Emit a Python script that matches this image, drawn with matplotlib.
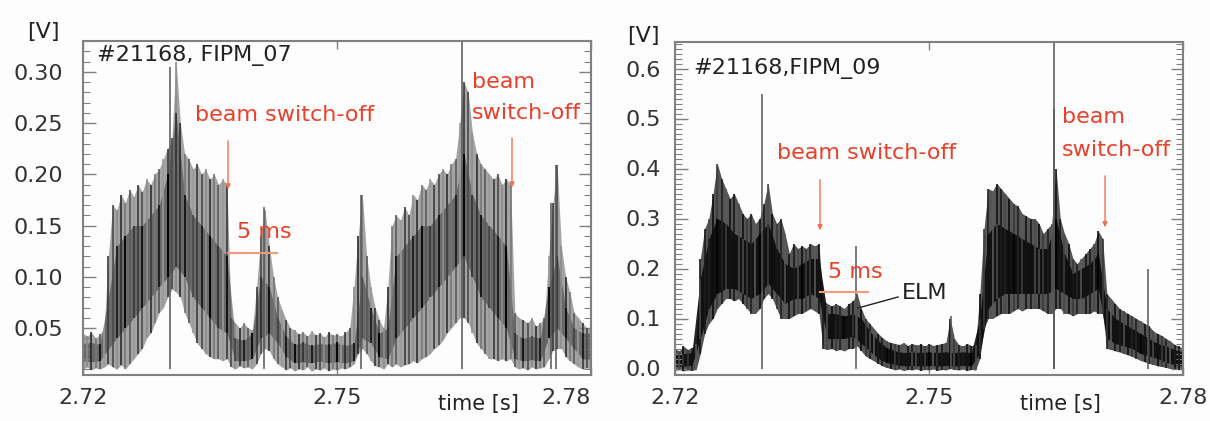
import numpy as np
import matplotlib
matplotlib.use("Agg")
from matplotlib import pyplot as plt
from matplotlib.ticker import MultipleLocator

plt.rcParams['font.family'] = ['DejaVu Sans']

# sample times of the envelopes (0.5 ms) and of the dense core (1 ms)
T = np.linspace(2.72, 2.78, 121)
TC = np.linspace(2.72, 2.78, 61)

# FIPM_07 - outer envelope of the signal [V]
L_HI = [0.045, 0.042, 0.046, 0.040, 0.044, 0.050, 0.120, 0.170, 0.165, 0.180,
        0.172, 0.185, 0.178, 0.190, 0.183, 0.195, 0.190, 0.200, 0.205, 0.215,
        0.225, 0.235, 0.310, 0.250, 0.220, 0.215, 0.205, 0.210, 0.200, 0.205,
        0.195, 0.200, 0.190, 0.195, 0.190, 0.060, 0.055, 0.050, 0.055, 0.050,
        0.048, 0.090, 0.140, 0.165, 0.130, 0.100, 0.080, 0.068, 0.058, 0.050,
        0.048, 0.044, 0.046, 0.042, 0.047, 0.043, 0.045, 0.041, 0.046, 0.043,
        0.044, 0.042, 0.046, 0.050, 0.090, 0.140, 0.180, 0.120, 0.090, 0.070,
        0.058, 0.050, 0.090, 0.150, 0.160, 0.155, 0.168, 0.160, 0.180, 0.175,
        0.190, 0.185, 0.195, 0.190, 0.200, 0.205, 0.200, 0.210, 0.215, 0.250,
        0.290, 0.280, 0.240, 0.220, 0.210, 0.205, 0.200, 0.195, 0.200, 0.190,
        0.195, 0.190, 0.065, 0.060, 0.058, 0.055, 0.060, 0.052, 0.055, 0.060,
        0.120, 0.172, 0.209, 0.130, 0.100, 0.085, 0.065, 0.060, 0.055, 0.050,
        0.050]
L_LO = [0.010, 0.012, 0.009, 0.011, 0.010, 0.012, 0.015, 0.012, 0.010, 0.014,
        0.010, 0.015, 0.020, 0.025, 0.030, 0.040, 0.045, 0.055, 0.065, 0.070,
        0.080, 0.088, 0.085, 0.080, 0.065, 0.055, 0.045, 0.035, 0.030, 0.025,
        0.022, 0.020, 0.020, 0.018, 0.020, 0.012, 0.010, 0.013, 0.011, 0.012,
        0.010, 0.015, 0.025, 0.030, 0.028, 0.020, 0.015, 0.012, 0.009, 0.011,
        0.008, 0.010, 0.009, 0.012, 0.008, 0.010, 0.009, 0.011, 0.008, 0.010,
        0.009, 0.011, 0.010, 0.012, 0.015, 0.025, 0.030, 0.025, 0.018, 0.013,
        0.012, 0.010, 0.015, 0.012, 0.015, 0.012, 0.014, 0.015, 0.018, 0.016,
        0.020, 0.022, 0.025, 0.030, 0.033, 0.038, 0.045, 0.050, 0.055, 0.060,
        0.060, 0.055, 0.045, 0.035, 0.030, 0.025, 0.020, 0.020, 0.018, 0.020,
        0.018, 0.020, 0.012, 0.010, 0.011, 0.009, 0.012, 0.010, 0.011, 0.012,
        0.020, 0.028, 0.030, 0.030, 0.022, 0.018, 0.015, 0.012, 0.010, 0.011,
        0.010]
# FIPM_07 - dense (dark) core
LC_LO = [0.018, 0.017, 0.018, 0.030, 0.040, 0.050, 0.060, 0.070, 0.080, 0.090,
         0.100, 0.110, 0.100, 0.080, 0.070, 0.060, 0.050, 0.045, 0.018, 0.018,
         0.020, 0.040, 0.045, 0.035, 0.022, 0.016, 0.017, 0.016, 0.018, 0.016,
         0.017, 0.016, 0.018, 0.040, 0.035, 0.022, 0.020, 0.040, 0.050, 0.060,
         0.070, 0.080, 0.090, 0.100, 0.110, 0.120, 0.100, 0.080, 0.070, 0.060,
         0.050, 0.020, 0.018, 0.019, 0.018, 0.040, 0.050, 0.040, 0.030, 0.020,
         0.020]
LC_HI = [0.035, 0.036, 0.034, 0.080, 0.130, 0.140, 0.150, 0.150, 0.160, 0.170,
         0.200, 0.260, 0.180, 0.160, 0.150, 0.140, 0.130, 0.120, 0.040, 0.038,
         0.045, 0.100, 0.090, 0.060, 0.042, 0.034, 0.036, 0.033, 0.035, 0.034,
         0.036, 0.033, 0.035, 0.100, 0.070, 0.045, 0.050, 0.120, 0.130, 0.140,
         0.150, 0.150, 0.160, 0.170, 0.180, 0.220, 0.180, 0.160, 0.150, 0.140,
         0.130, 0.045, 0.040, 0.042, 0.040, 0.090, 0.120, 0.070, 0.050, 0.045,
         0.045]
# FIPM_07 - isolated spikes
L_SPIKE_T = [2.73028, 2.74138, 2.75283, 2.76476, 2.77527, 2.77586]
L_SPIKE_V = [0.305, 0.168, 0.180, 0.340, 0.172, 0.209]

# FIPM_09 - outer envelope [V]
R_HI = [0.040, 0.035, 0.045, 0.038, 0.042, 0.050, 0.220, 0.280, 0.300, 0.350,
        0.410, 0.380, 0.360, 0.340, 0.350, 0.330, 0.310, 0.300, 0.310, 0.290,
        0.300, 0.330, 0.370, 0.310, 0.290, 0.300, 0.270, 0.230, 0.250, 0.240,
        0.245, 0.240, 0.250, 0.245, 0.250, 0.135, 0.130, 0.125, 0.130, 0.125,
        0.120, 0.130, 0.135, 0.150, 0.120, 0.100, 0.090, 0.080, 0.070, 0.062,
        0.055, 0.052, 0.050, 0.048, 0.052, 0.046, 0.050, 0.047, 0.049, 0.045,
        0.050, 0.046, 0.048, 0.050, 0.052, 0.100, 0.060, 0.048, 0.045, 0.050,
        0.046, 0.048, 0.150, 0.280, 0.360, 0.355, 0.370, 0.360, 0.350, 0.340,
        0.330, 0.325, 0.310, 0.305, 0.300, 0.300, 0.290, 0.270, 0.280, 0.290,
        0.400, 0.300, 0.270, 0.250, 0.220, 0.210, 0.220, 0.230, 0.240, 0.250,
        0.275, 0.260, 0.150, 0.140, 0.130, 0.120, 0.115, 0.110, 0.105, 0.100,
        0.095, 0.090, 0.085, 0.075, 0.070, 0.066, 0.060, 0.055, 0.048, 0.045,
        0.040]
R_LO = [-0.004, -0.002, -0.005, -0.003, -0.004, -0.002, 0.030, 0.070, 0.090, 0.100,
        0.120, 0.130, 0.140, 0.140, 0.135, 0.140, 0.130, 0.120, 0.110, 0.110,
        0.120, 0.140, 0.150, 0.140, 0.120, 0.100, 0.100, 0.100, 0.105, 0.110,
        0.110, 0.115, 0.120, 0.115, 0.110, 0.040, 0.038, 0.040, 0.036, 0.038,
        0.035, 0.040, 0.040, 0.045, 0.035, 0.025, 0.020, 0.015, 0.010, 0.005,
        0.002, 0.000, -0.003, -0.001, -0.004, -0.002, -0.003, -0.001, -0.004, -0.002,
        -0.003, -0.001, -0.004, -0.002, -0.003, 0.000, -0.002, -0.003, -0.001, -0.004,
        -0.002, -0.003, 0.020, 0.080, 0.100, 0.100, 0.105, 0.110, 0.110, 0.110,
        0.115, 0.120, 0.115, 0.120, 0.120, 0.120, 0.120, 0.115, 0.110, 0.110,
        0.120, 0.120, 0.110, 0.110, 0.105, 0.110, 0.110, 0.110, 0.110, 0.115,
        0.110, 0.110, 0.040, 0.038, 0.035, 0.033, 0.030, 0.027, 0.024, 0.020,
        0.016, 0.013, 0.010, 0.008, 0.005, 0.004, 0.002, 0.000, -0.001, -0.002,
        -0.003]
RC_LO = [0.005, 0.005, 0.006, 0.060, 0.120, 0.150, 0.160, 0.160, 0.150, 0.140,
         0.150, 0.170, 0.150, 0.130, 0.140, 0.140, 0.150, 0.140, 0.060, 0.060,
         0.060, 0.065, 0.050, 0.035, 0.020, 0.012, 0.008, 0.005, 0.006, 0.005,
         0.006, 0.005, 0.006, 0.005, 0.006, 0.005, 0.030, 0.120, 0.140, 0.150,
         0.150, 0.150, 0.150, 0.150, 0.150, 0.160, 0.150, 0.140, 0.140, 0.150,
         0.160, 0.060, 0.050, 0.045, 0.040, 0.030, 0.025, 0.020, 0.012, 0.008,
         0.005]
RC_HI = [0.030, 0.030, 0.032, 0.180, 0.260, 0.300, 0.290, 0.270, 0.260, 0.250,
         0.270, 0.290, 0.240, 0.210, 0.200, 0.210, 0.220, 0.220, 0.110, 0.110,
         0.105, 0.110, 0.100, 0.075, 0.055, 0.042, 0.035, 0.032, 0.033, 0.032,
         0.033, 0.032, 0.033, 0.032, 0.033, 0.032, 0.100, 0.270, 0.290, 0.280,
         0.270, 0.260, 0.250, 0.240, 0.240, 0.300, 0.230, 0.190, 0.200, 0.210,
         0.230, 0.120, 0.100, 0.090, 0.080, 0.070, 0.060, 0.050, 0.045, 0.038,
         0.032]
R_SPIKE_T = [2.73028, 2.74138, 2.75260, 2.76476, 2.76476, 2.77586]
R_SPIKE_V = [0.550, 0.245, 0.105, 0.660, 0.520, 0.200]

XTICKS = [2.72, 2.75, 2.78]
XTICKLABELS = ['2.72', '2.75', '2.78']
L_YTICKS = [0.05, 0.10, 0.15, 0.20, 0.25, 0.30]
R_YTICKS = [0.0, 0.1, 0.2, 0.3, 0.4, 0.5, 0.6]

RED = '#e8402a'
ARROW = '#ef7050'
FS = 16

# stroke shades, cycled along the trace so the streaks don't look like a comb
L_STREAKS = ['#4a4a4a', '#8c8c8c', '#2e2e2e', '#777777', '#5a5a5a', '#9a9a9a', '#3a3a3a']
R_STREAKS = ['#1a1a1a', '#4a4a4a', '#0e0e0e', '#3a3a3a', '#222222', '#5a5a5a', '#141414']
CORE_STREAKS = ['#000000', '#333333', '#111111', '#454545', '#1a1a1a']


def cycle(cols, n):
    return [cols[i % len(cols)] for i in range(n)]


def draw_signal(ax, lo, hi, clo, chi, sp_t, sp_v, ybase, outer, streaks, core, calpha):
    ax.fill_between(T, lo, hi, color=outer, lw=0)
    ax.vlines(T, lo, hi, colors=cycle(streaks, len(T)), lw=1.2)
    ax.fill_between(TC, clo, chi, color=core, lw=0, alpha=calpha)
    ax.vlines(TC, clo, chi, colors=cycle(CORE_STREAKS, len(TC)), lw=1.3)
    ax.vlines(sp_t, ybase, sp_v, color='#555555', lw=1.1)


def style_axes(ax, yticks, ylabels, ylim, ypad):
    ax.set_xlim(2.72, 2.78)
    ax.set_ylim(*ylim)
    ax.set_facecolor('#fdfdfd')
    ax.set_xticks(XTICKS)
    ax.set_xticklabels(XTICKLABELS)
    ax.set_yticks(yticks)
    ax.set_yticklabels(ylabels)
    ax.yaxis.set_minor_locator(MultipleLocator(0.01))
    ax.tick_params(axis='both', which='both', direction='in', colors='#808080',
                   labelcolor='#333333', labelsize=FS, top=True, right=True)
    ax.tick_params(axis='y', which='major', length=9, width=1.0, pad=ypad)
    ax.tick_params(axis='y', which='minor', length=5, width=0.8)
    ax.tick_params(axis='x', which='major', length=6, width=1.0, pad=9)
    for s in ax.spines.values():
        s.set_color('#808080')
        s.set_linewidth(1.5)


fig = plt.figure(figsize=(12.1, 4.21), dpi=100, facecolor='#fdfdfd')
axl = fig.add_axes([83 / 1210, 1 - 375 / 421, 508 / 1210, 334 / 421])
axr = fig.add_axes([675 / 1210, 1 - 375 / 421, 508 / 1210, 333 / 421])

# ---- left panel: FIPM_07
draw_signal(axl, L_LO, L_HI, LC_LO, LC_HI, L_SPIKE_T, L_SPIKE_V, 0.01,
            '#a4a4a4', L_STREAKS, '#303030', 0.5)
style_axes(axl, L_YTICKS, ['%.2f' % v for v in L_YTICKS], (0.0042, 0.33), 14)
axl.get_xticklabels()[-1].set_horizontalalignment('right')
axl.text(2.72165, 0.316, '#21168, FIPM_07', fontsize=FS, color='#222222', va='center')
axl.text(2.73323, 0.2576, 'beam switch-off', fontsize=FS, color=RED, va='center')
axl.annotate('', xy=(2.73713, 0.1826), xytext=(2.73713, 0.2352),
             arrowprops=dict(arrowstyle='-|>', color=ARROW, lw=1.0, mutation_scale=7))
axl.text(2.73819, 0.1436, '5 ms', fontsize=FS, color=RED, va='center')
axl.plot([2.73713, 2.74291], [0.1231, 0.1231], color='#f29a7a', lw=1.5)
axl.text(2.76594, 0.2898, 'beam', fontsize=FS, color=RED, va='center')
axl.text(2.76594, 0.2596, 'switch-off', fontsize=FS, color=RED, va='center')
axl.annotate('', xy=(2.77067, 0.1845), xytext=(2.77067, 0.2381),
             arrowprops=dict(arrowstyle='-|>', color=ARROW, lw=1.0, mutation_scale=7))
fig.text(478 / 1210, 1 - 404 / 421, 'time [s]', fontsize=15, color='#222222',
         ha='center', va='center')
fig.text(43 / 1210, 1 - 32 / 421, '[V]', fontsize=FS, color='#222222', ha='center', va='center')

# ---- right panel: FIPM_09
draw_signal(axr, R_LO, R_HI, RC_LO, RC_HI, R_SPIKE_T, R_SPIKE_V, 0.0,
            '#555555', R_STREAKS, '#0a0a0a', 0.9)
style_axes(axr, R_YTICKS, ['%.1f' % v for v in R_YTICKS], (-0.013, 0.653), 10)
axr.text(2.72213, 0.601, '#21168,FIPM_09', fontsize=FS, color='#222222', va='center')
axr.text(2.73205, 0.431, 'beam switch-off', fontsize=FS, color=RED, va='center')
axr.annotate('', xy=(2.73713, 0.271), xytext=(2.73713, 0.383),
             arrowprops=dict(arrowstyle='-|>', color=ARROW, lw=1.0, mutation_scale=7))
axr.text(2.73807, 0.193, '5 ms', fontsize=FS, color=RED, va='center')
axr.plot([2.73713, 2.74280], [0.153, 0.153], color='#f29a7a', lw=1.5)
axr.text(2.74681, 0.151, 'ELM', fontsize=FS, color='#222222', va='center')
axr.plot([2.74634, 2.74161], [0.143, 0.121], color='#222222', lw=1.0)
axr.text(2.76571, 0.503, 'beam', fontsize=FS, color=RED, va='center')
axr.text(2.76571, 0.437, 'switch-off', fontsize=FS, color=RED, va='center')
axr.annotate('', xy=(2.77079, 0.277), xytext=(2.77079, 0.391),
             arrowprops=dict(arrowstyle='-|>', color=ARROW, lw=1.0, mutation_scale=7))
fig.text(1060 / 1210, 1 - 404 / 421, 'time [s]', fontsize=15, color='#222222',
         ha='center', va='center')
fig.text(643 / 1210, 1 - 36 / 421, '[V]', fontsize=FS, color='#222222', ha='center', va='center')

fig.savefig('out.png', dpi=100, facecolor=fig.get_facecolor())
